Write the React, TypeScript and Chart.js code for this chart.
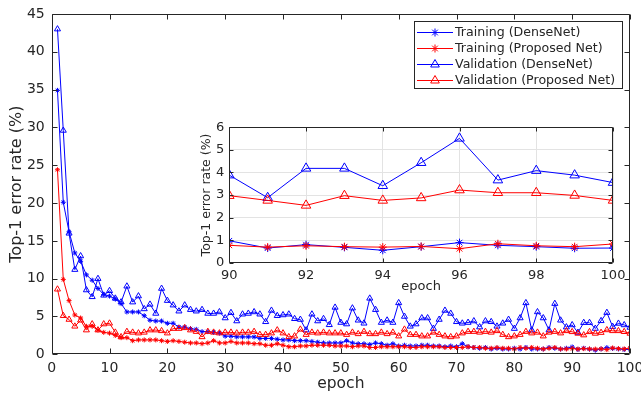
import React, { useEffect, useRef } from "react";
import { Chart, registerables } from "chart.js";

Chart.register(...registerables);

const epochs = Array.from({ length: 100 }, (_, i) => i + 1);

const trainDense = [
  34.9, 20.1, 16.2, 13.4, 12.3, 10.5, 9.8, 8.7, 7.9, 7.7,
  7.3, 6.7, 5.6, 5.6, 5.6, 5.1, 4.5, 4.4, 4.4, 4.1,
  4.1, 3.6, 3.6, 3.4, 3.3, 3.0, 3.0, 2.9, 2.8, 2.4,
  2.4, 2.3, 2.3, 2.3, 2.3, 2.1, 2.1, 2.1, 2.0, 1.9,
  1.9, 1.8, 1.8, 1.8, 1.7, 1.6, 1.5, 1.5, 1.5, 1.5,
  1.8, 1.5, 1.4, 1.4, 1.3, 1.5, 1.4, 1.2, 1.4, 1.1,
  1.2, 1.1, 1.1, 1.2, 1.2, 1.1, 1.1, 1.0, 1.1, 1.0,
  1.4, 1.0, 0.9, 0.8, 0.9, 0.7, 0.8, 0.7, 0.7, 0.8,
  0.7, 0.9, 0.7, 0.7, 0.7, 0.9, 0.8, 0.7, 0.8, 0.97,
  0.65, 0.8, 0.68, 0.55, 0.71, 0.89, 0.77, 0.71, 0.64, 0.65,
];

const trainProposed = [
  24.4, 9.9, 7.1, 5.2, 4.8, 3.7, 3.7, 3.2, 2.9, 2.8,
  2.5, 2.2, 2.2, 1.8, 1.9, 1.9, 1.9, 1.9, 1.8, 1.7,
  1.8, 1.7, 1.6, 1.5, 1.5, 1.4, 1.5, 1.8, 1.5, 1.5,
  1.7, 1.5, 1.5, 1.5, 1.4, 1.4, 1.2, 1.2, 1.4, 1.2,
  1.0, 1.0, 1.1, 1.1, 1.2, 1.2, 1.2, 1.2, 1.1, 1.1,
  1.1, 1.0, 1.1, 1.1, 0.9, 0.9, 1.0, 1.0, 1.0, 1.0,
  1.0, 0.9, 0.9, 1.0, 1.0, 1.0, 1.0, 0.9, 0.9, 0.9,
  0.9, 1.0, 0.9, 0.9, 0.8, 0.8, 0.9, 0.8, 0.8, 0.7,
  0.9, 0.8, 0.9, 0.8, 0.7, 0.8, 0.9, 0.7, 0.7, 0.77,
  0.69, 0.75, 0.71, 0.69, 0.72, 0.62, 0.84, 0.75, 0.71, 0.83,
];

const valDense = [
  43.0, 29.6, 16.0, 11.2, 13.0, 8.5, 7.6, 10.0, 7.8, 8.4,
  7.4, 6.9, 9.0, 6.9, 7.7, 6.0, 6.6, 5.4, 8.7, 7.1,
  6.5, 5.7, 6.5, 5.9, 5.7, 5.9, 5.4, 5.4, 5.6, 4.8,
  5.5, 4.4, 5.3, 5.4, 5.6, 5.3, 4.3, 5.8, 5.1, 5.2,
  5.3, 4.7, 4.6, 3.2, 5.3, 4.4, 4.7, 3.9, 6.2, 4.2,
  4.0, 6.1, 4.5, 4.1, 7.4, 5.9, 4.2, 4.5, 4.2, 6.8,
  5.0, 3.7, 4.0, 4.8, 4.8, 3.4, 4.6, 5.8, 5.4, 4.3,
  4.1, 4.2, 4.4, 3.6, 4.4, 4.3, 3.7, 4.1, 4.6, 3.4,
  4.8, 6.8, 3.2, 5.6, 4.8, 3.2, 6.7, 4.5, 3.6, 3.88,
  2.88, 4.18, 4.18, 3.41, 4.43, 5.51, 3.66, 4.08, 3.88, 3.55,
];

const valProposed = [
  8.6, 5.1, 4.6, 3.7, 4.5, 3.2, 4.0, 3.2, 4.0, 4.1,
  2.9, 2.3, 3.0, 2.9, 2.8, 2.9, 3.2, 3.2, 3.1, 2.8,
  3.4, 3.4, 3.5, 3.2, 3.0, 2.3, 3.0, 2.9, 2.8, 2.9,
  2.9, 2.8, 2.9, 2.9, 3.0, 2.6, 2.6, 2.8, 3.2, 2.8,
  2.3, 2.4, 3.3, 2.6, 2.9, 2.8, 2.9, 2.8, 2.8, 2.8,
  2.6, 2.9, 2.7, 3.0, 2.7, 2.7, 2.9, 2.7, 2.9, 2.4,
  3.3, 2.6, 2.6, 2.4, 2.4, 2.9, 2.6, 2.4, 2.3, 2.4,
  2.8, 3.0, 3.0, 2.9, 3.0, 2.9, 3.1, 2.6, 2.3, 2.4,
  2.6, 3.0, 2.8, 2.9, 2.4, 2.9, 3.0, 2.8, 3.1, 2.97,
  2.76, 2.54, 2.97, 2.76, 2.87, 3.22, 3.1, 3.1, 2.98, 2.76,
];

const seriesNames = [
  "Training (DenseNet)",
  "Training (Proposed Net)",
  "Validation (DenseNet)",
  "Validation (Proposed Net)",
];

const mainXTicks = [0, 10, 20, 30, 40, 50, 60, 70, 80, 90, 100];
const mainYTicks = [0, 5, 10, 15, 20, 25, 30, 35, 40, 45];
const insetXTicks = [90, 92, 94, 96, 98, 100];
const insetYTicks = [0, 1, 2, 3, 4, 5, 6];

const BLUE = "#0000ff";
const RED = "#ff0000";
const AXIS = "#262626";
const FONT = "DejaVu Sans";

Chart.defaults.font.family = FONT;

type Series = { values: number[]; color: string; marker: "star" | "triangle" };
const seriesList: Series[] = [
  { values: trainDense, color: BLUE, marker: "star" },
  { values: trainProposed, color: RED, marker: "star" },
  { values: valDense, color: BLUE, marker: "triangle" },
  { values: valProposed, color: RED, marker: "triangle" },
];

function buildDatasets(fromEpoch: number, starR: number, triR: number) {
  return seriesList.map((s, k) => ({
    label: seriesNames[k],
    data: epochs
      .map((e, i) => ({ x: e, y: s.values[i] }))
      .filter((p) => p.x >= fromEpoch),
    borderColor: s.color,
    backgroundColor: "rgba(0,0,0,0)",
    borderWidth: 1,
    pointStyle: s.marker,
    pointRadius: s.marker === "star" ? starR : triR,
    pointBorderWidth: 1,
    pointBorderColor: s.color,
    pointBackgroundColor: "rgba(0,0,0,0)",
    order: 4 - k,
    tension: 0,
  }));
}

function drawMarker(ctx: CanvasRenderingContext2D, kind: string, x: number, y: number, r: number) {
  ctx.beginPath();
  if (kind === "star") {
    ctx.moveTo(x - r, y);
    ctx.lineTo(x + r, y);
    ctx.moveTo(x, y - r);
    ctx.lineTo(x, y + r);
    const d = r * 0.7071;
    ctx.moveTo(x - d, y - d);
    ctx.lineTo(x + d, y + d);
    ctx.moveTo(x - d, y + d);
    ctx.lineTo(x + d, y - d);
  } else {
    const a = (2 * Math.PI) / 3;
    for (let j = 0; j < 3; j++) {
      const rad = j * a;
      const px = x + Math.sin(rad) * r;
      const py = y - Math.cos(rad) * r;
      if (j === 0) ctx.moveTo(px, py);
      else ctx.lineTo(px, py);
    }
    ctx.closePath();
  }
  ctx.stroke();
}

function framePlugin(xTicks: number[], yTicks: number[], tickLen: number, fillBg: boolean) {
  return {
    id: "frame",
    beforeDraw(chart: any) {
      if (!fillBg) return;
      const { ctx, chartArea: a } = chart;
      ctx.save();
      ctx.fillStyle = "#ffffff";
      ctx.fillRect(a.left, a.top, a.right - a.left, a.bottom - a.top);
      ctx.restore();
    },
    afterDatasetsDraw(chart: any) {
      const { ctx, chartArea: a, scales } = chart;
      ctx.save();
      ctx.strokeStyle = AXIS;
      ctx.lineWidth = 1;
      const L = Math.round(a.left) + 0.5;
      const R = Math.round(a.right) - 0.5;
      const T = Math.round(a.top) + 0.5;
      const B = Math.round(a.bottom) - 0.5;
      ctx.beginPath();
      ctx.rect(L, T, R - L, B - T);
      for (const v of xTicks) {
        const px = Math.round(scales.x.getPixelForValue(v)) + 0.5;
        ctx.moveTo(px, B);
        ctx.lineTo(px, B - tickLen);
        ctx.moveTo(px, T);
        ctx.lineTo(px, T + tickLen);
      }
      for (const v of yTicks) {
        const py = Math.round(scales.y.getPixelForValue(v)) + 0.5;
        ctx.moveTo(L, py);
        ctx.lineTo(L + tickLen, py);
        ctx.moveTo(R, py);
        ctx.lineTo(R - tickLen, py);
      }
      ctx.stroke();
      ctx.restore();
    },
  };
}

const legendPlugin = {
  id: "mlegend",
  afterDraw(chart: any) {
    const ctx: CanvasRenderingContext2D = chart.ctx;
    ctx.save();
    const bx = 414.5, by = 21.5, bw = 208, bh = 67;
    ctx.fillStyle = "#ffffff";
    ctx.fillRect(bx, by, bw, bh);
    ctx.strokeStyle = AXIS;
    ctx.lineWidth = 1;
    ctx.strokeRect(bx, by, bw, bh);
    const rows = [32, 48, 64, 80];
    ctx.font = `12.6px "${FONT}"`;
    ctx.textBaseline = "middle";
    ctx.textAlign = "left";
    seriesList.forEach((s, k) => {
      const y = rows[k] + 0.5;
      ctx.strokeStyle = s.color;
      ctx.beginPath();
      ctx.moveTo(417, y);
      ctx.lineTo(453, y);
      ctx.stroke();
      drawMarker(ctx, s.marker, 435, y, s.marker === "star" ? 4 : 5);
      ctx.fillStyle = AXIS;
      ctx.fillText(seriesNames[k], 455, rows[k] + 1);
    });
    ctx.restore();
  },
};

export default function App() {
  const mainRef = useRef<HTMLCanvasElement>(null);
  const insetRef = useRef<HTMLCanvasElement>(null);

  useEffect(() => {
    const main = new Chart(mainRef.current as HTMLCanvasElement, {
      type: "line",
      data: { datasets: buildDatasets(1, 2.5, 3.5) as any },
      options: {
        responsive: false,
        animation: false,
        events: [],
        layout: { autoPadding: false, padding: { left: 0, right: 11, top: 14, bottom: 0 } },
        plugins: { legend: { display: false }, tooltip: { enabled: false } },
        scales: {
          x: {
            type: "linear",
            min: 0,
            max: 100,
            afterBuildTicks: (s: any) => { s.ticks = mainXTicks.map((v) => ({ value: v })); },
            afterFit: (s: any) => { s.height = 39.7; s.paddingLeft = 0; s.paddingRight = 0; },
            grid: { display: false, drawTicks: false },
            border: { display: false },
            ticks: { color: AXIS, font: { size: 14 }, padding: 6, maxRotation: 0, autoSkip: false },
            title: { display: true, text: "epoch", color: AXIS, font: { size: 15.5 }, padding: { top: 0, bottom: 1 } },
          },
          y: {
            type: "linear",
            min: 0,
            max: 45,
            afterBuildTicks: (s: any) => { s.ticks = mainYTicks.map((v) => ({ value: v })); },
            afterFit: (s: any) => { s.width = 51.7; s.paddingTop = 0; s.paddingBottom = 0; },
            grid: { display: false, drawTicks: false },
            border: { display: false },
            ticks: { color: AXIS, font: { size: 14 }, padding: 7, autoSkip: false },
            title: { display: true, text: "Top-1 error rate (%)", color: AXIS, font: { size: 16 }, padding: { top: 7, bottom: 0 } },
          },
        },
      },
      plugins: [framePlugin(mainXTicks, mainYTicks, 5, false), legendPlugin],
    });

    const inset = new Chart(insetRef.current as HTMLCanvasElement, {
      type: "line",
      data: { datasets: buildDatasets(90, 4, 5.5) as any },
      options: {
        responsive: false,
        animation: false,
        events: [],
        layout: { autoPadding: false, padding: { left: 0, right: 12, top: 17.3, bottom: 0 } },
        plugins: { legend: { display: false }, tooltip: { enabled: false } },
        scales: {
          x: {
            type: "linear",
            min: 90,
            max: 100,
            afterBuildTicks: (s: any) => { s.ticks = insetXTicks.map((v) => ({ value: v })); },
            afterFit: (s: any) => { s.height = 37.3; s.paddingLeft = 0; s.paddingRight = 0; },
            grid: { display: true, drawOnChartArea: true, drawTicks: false, color: "#e3e3e3", lineWidth: 1 },
            border: { display: false },
            ticks: { color: AXIS, font: { size: 13 }, padding: 5, maxRotation: 0, autoSkip: false },
            title: { display: true, text: "epoch", color: AXIS, font: { size: 13 }, padding: { top: 0, bottom: 6 } },
          },
          y: {
            type: "linear",
            min: 0,
            max: 6,
            afterBuildTicks: (s: any) => { s.ticks = insetYTicks.map((v) => ({ value: v })); },
            afterFit: (s: any) => { s.width = 49.3; s.paddingTop = 0; s.paddingBottom = 0; },
            grid: { display: true, drawOnChartArea: true, drawTicks: false, color: "#e3e3e3", lineWidth: 1 },
            border: { display: false },
            ticks: { color: AXIS, font: { size: 13 }, padding: 5, autoSkip: false },
            title: { display: true, text: "Top-1 error rate (%)", color: AXIS, font: { size: 12.5 }, padding: { top: 19, bottom: 0 } },
          },
        },
      },
      plugins: [framePlugin(insetXTicks, insetYTicks, 4, true)],
    });

    return () => {
      main.destroy();
      inset.destroy();
    };
  }, []);

  return (
    <div style={{ position: "fixed", left: 0, top: 0, width: 641, height: 394, background: "#ffffff" }}>
      <canvas
        ref={mainRef}
        width={641}
        height={394}
        style={{ position: "absolute", left: 0, top: 0, width: 641, height: 394 }}
      />
      <canvas
        ref={insetRef}
        width={445}
        height={190}
        style={{ position: "absolute", left: 180, top: 110, width: 445, height: 190 }}
      />
    </div>
  );
}
